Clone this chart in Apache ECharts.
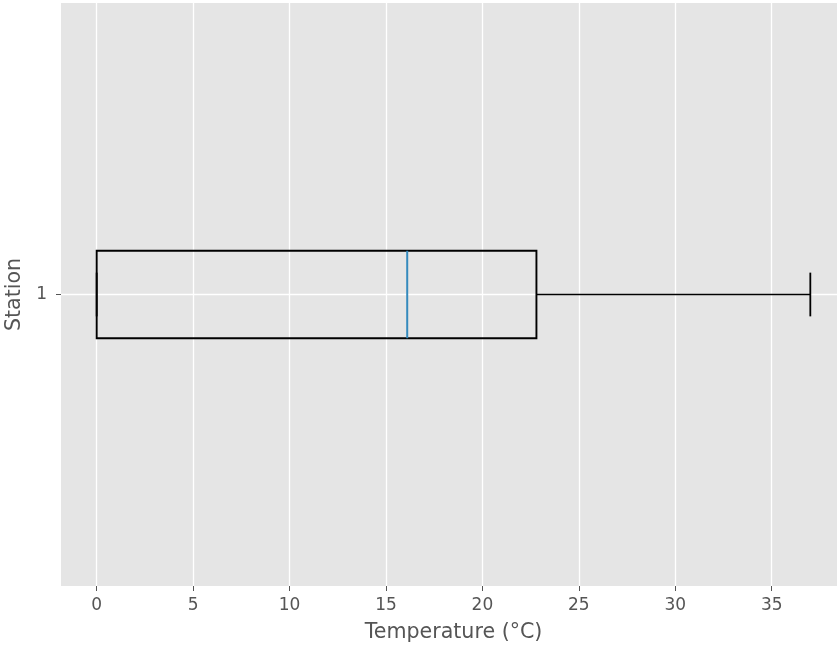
<!DOCTYPE html>
<html>
<head>
<meta charset="utf-8">
<script src="https://cdn.jsdelivr.net/npm/echarts@6/dist/echarts.min.js"></script>
<style>
html,body{margin:0;padding:0;background:#fff;overflow:hidden;}
#chart{width:837px;height:650px;}
</style>
</head>
<body>
<div id="chart"></div>
<script>
// ---- data ----
const stations = ['1'];
const whiskerLow = [0];
const q1 = [0];
const median = [16.1];
const q3 = [22.8];
const whiskerHigh = [37.0];
const xTicks = [0, 5, 10, 15, 20, 25, 30, 35];
const yTicks = [1];

const data = stations.map((s, i) => [i + 1, whiskerLow[i], q1[i], median[i], q3[i], whiskerHigh[i]]);

function renderItem(params, api) {
  const y = api.value(0);
  const lo = api.value(1), a = api.value(2), m = api.value(3), b = api.value(4), hi = api.value(5);
  const boxH = api.size([0, 0.15])[1];
  const capH = api.size([0, 0.075])[1];
  const pLo = api.coord([lo, y]);
  const pA = api.coord([a, y]);
  const pM = api.coord([m, y]);
  const pB = api.coord([b, y]);
  const pHi = api.coord([hi, y]);
  const cy = pA[1];
  const black = '#000000';
  return {
    type: 'group',
    children: [
      { type: 'line', shape: { x1: pLo[0], y1: cy, x2: pA[0], y2: cy }, style: { stroke: black, lineWidth: 1.4 } },
      { type: 'line', shape: { x1: pB[0], y1: cy, x2: pHi[0], y2: cy }, style: { stroke: black, lineWidth: 1.4 } },
      { type: 'line', shape: { x1: pLo[0], y1: cy - capH / 2, x2: pLo[0], y2: cy + capH / 2 }, style: { stroke: black, lineWidth: 1.8 } },
      { type: 'line', shape: { x1: pHi[0], y1: cy - capH / 2, x2: pHi[0], y2: cy + capH / 2 }, style: { stroke: black, lineWidth: 1.8 } },
      { type: 'rect', shape: { x: pA[0], y: cy - boxH / 2, width: pB[0] - pA[0], height: boxH }, style: { fill: 'none', stroke: black, lineWidth: 1.9 } },
      { type: 'line', shape: { x1: pM[0], y1: cy - boxH / 2, x2: pM[0], y2: cy + boxH / 2 }, style: { stroke: '#348ABD', lineWidth: 2 } }
    ]
  };
}

const chart = echarts.init(document.getElementById('chart'), null, { renderer: 'canvas' });
const font = 'DejaVu Sans';
chart.setOption({
  animation: false,
  backgroundColor: '#ffffff',
  textStyle: { fontFamily: font },
  grid: { left: 61, right: -9, top: 3, bottom: 64, show: true, backgroundColor: '#E5E5E5', borderWidth: 0,
    containLabel: false, outerBoundsMode: 'none' },
  xAxis: {
    type: 'value',
    min: -1.85,
    max: 38.85,
    name: 'Temperature (°C)',
    nameLocation: 'middle',
    nameGap: 36,
    nameTextStyle: { color: '#555555', fontSize: 20.6, fontFamily: font },
    axisLine: { show: false, onZero: false },
    axisTick: { show: true, length: 5, lineStyle: { color: '#555555', width: 1 }, customValues: xTicks },
    axisLabel: { color: '#555555', fontSize: 17, fontFamily: font, margin: 11, customValues: xTicks },
    splitLine: { show: true, lineStyle: { color: '#ffffff', width: 1.3 } }
  },
  yAxis: {
    type: 'value',
    min: 0.5,
    max: 1.5,
    interval: 0.5,
    name: 'Station',
    nameLocation: 'middle',
    nameGap: 32,
    nameRotate: 90,
    nameTextStyle: { color: '#555555', fontSize: 20.6, fontFamily: font },
    axisLine: { show: false, onZero: false },
    axisTick: { show: true, length: 5, lineStyle: { color: '#555555', width: 1 }, customValues: yTicks },
    axisLabel: { color: '#555555', fontSize: 17, fontFamily: font, margin: 14, customValues: yTicks,
      formatter: v => stations[Math.round(v) - 1] || '' },
    splitLine: { show: true, lineStyle: { color: '#ffffff', width: 1.3 } }
  },
  series: [{
    type: 'custom',
    renderItem: renderItem,
    encode: { x: [1, 2, 3, 4, 5], y: 0 },
    data: data,
    clip: false
  }]
});
</script>
</body>
</html>
